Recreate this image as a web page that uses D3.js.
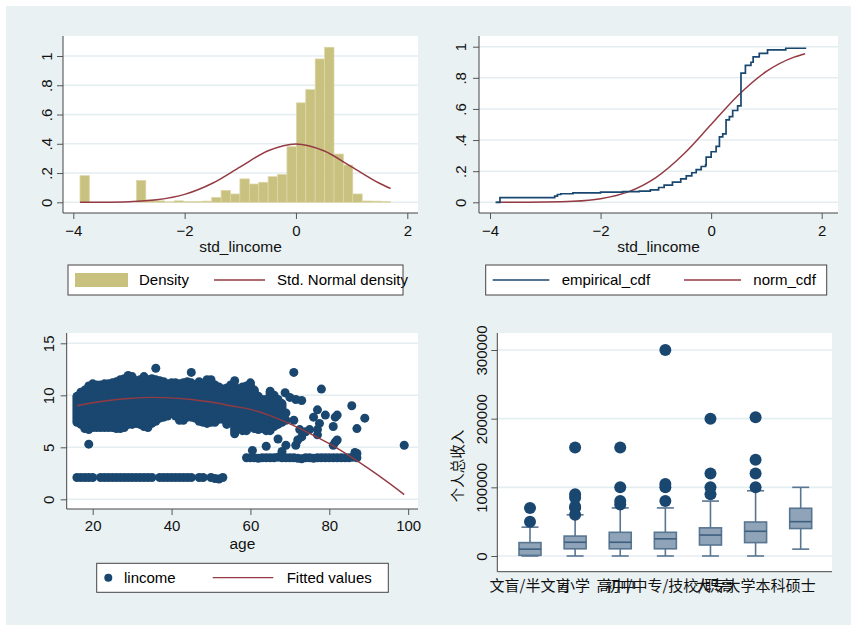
<!DOCTYPE html>
<html><head><meta charset="utf-8">
<script src="https://cdn.jsdelivr.net/npm/d3@7"></script>
<style>
body{margin:0;background:#fff}
svg{display:block;font-family:"Liberation Sans",Arial,sans-serif}
</style></head><body>
<svg id="chart" width="851" height="625"></svg>
<script>
// ---- data ----
// histogram of std_lincome (bin width 0.169)
const binWidth = 0.169;
const binLo   = [-3.88, -2.866, -2.697, -2.528, -2.359, -2.19, -2.021, -1.852, -1.683, -1.514, -1.345, -1.176, -1.007, -0.838, -0.669, -0.5, -0.331, -0.162, 0.007, 0.176, 0.345, 0.514, 0.683, 0.852, 1.021, 1.19, 1.359, 1.528];
const density = [0.182, 0.15, 0.016, 0.01, 0.003, 0.01, 0.005, 0.005, 0.008, 0.034, 0.082, 0.057, 0.16, 0.125, 0.137, 0.175, 0.19, 0.38, 0.68, 0.77, 0.98, 1.06, 0.33, 0.255, 0.057, 0.009, 0.008, 0.005];
const normX   = [-3.88, -3.5, -3.0, -2.5, -2.0, -1.5, -1.0, -0.5, 0, 0.5, 1.0, 1.5, 1.7];
const normPdf = [0.0002, 0.0009, 0.0044, 0.0175, 0.054, 0.13, 0.242, 0.352, 0.399, 0.352, 0.242, 0.13, 0.094];
const normCdf = [0.0001, 0.0002, 0.0013, 0.006, 0.023, 0.067, 0.159, 0.309, 0.5, 0.691, 0.841, 0.933, 0.955];

// empirical cdf steps
const ecdfX = [-3.9, -3.82, -2.83, -2.78, -2.72, -2.5, -2.0, -1.6, -1.3, -1.1, -0.95, -0.85, -0.7, -0.55, -0.45, -0.35, -0.27, -0.18, -0.1, -0.09, 0.0, 0.09, 0.15, 0.21, 0.27, 0.33, 0.39, 0.48, 0.54, 0.62, 0.72, 0.76, 0.87, 1.02, 1.35, 1.72];
const ecdfY = [0, 0.03, 0.04, 0.05, 0.055, 0.06, 0.065, 0.068, 0.072, 0.08, 0.095, 0.11, 0.13, 0.15, 0.17, 0.19, 0.21, 0.23, 0.24, 0.29, 0.325, 0.36, 0.42, 0.44, 0.53, 0.55, 0.59, 0.62, 0.83, 0.88, 0.9, 0.935, 0.957, 0.98, 0.99, 0.99];

// lincome vs age: dense band per age (low / high of the dots)
const bandAge = [16,17,18,19,20,21,22,23,24,25,26,27,28,29,30,31,32,33,34,35,36,37,38,39,40,41,42,43,44,45,46,47,48,49,50,51,52,53,54,55,56,57,58,59,60,61,62,63,64,65,66,67,68];
const bandLo  = [7.4,7.2,6.8,6.7,6.9,6.9,6.9,6.9,6.9,6.9,6.8,6.8,6.9,7.2,7.2,7.3,7.2,7.0,6.9,7.3,7.5,7.8,7.9,8.0,8.3,8.0,7.6,7.6,7.9,7.9,7.8,7.5,7.4,7.3,7.4,7.4,7.7,7.7,7.2,7.6,6.3,6.8,6.6,6.6,7.1,6.8,6.7,6.8,6.6,6.9,7.0,7.2,7.4];
const bandHi  = [9.9,10.3,10.5,10.9,11.1,11.0,11.0,11.1,11.1,11.2,11.3,11.5,11.6,11.9,11.8,11.4,11.5,11.8,11.5,11.6,11.5,11.4,11.3,11.1,11.2,11.2,11.1,11.2,11.3,11.2,11.0,11.3,11.0,11.5,11.5,11.0,10.8,10.6,10.7,11.0,10.9,10.4,10.8,10.9,11.2,10.5,9.9,9.6,9.6,10.4,10.0,9.6,9.2];
const lowRow = [[16,2.1],[17,2.1],[18,2.1],[19,2.1],[20,2.1],[22,2.1],[23,2.1],[24,2.1],[25,2.1],[26,2.1],[27,2.1],[28,2.1],[29,2.1],[30,2.1],[31,2.1],[32,2.1],[33,2.1],[34,2.1],[35,2.1],[37,2.1],[38,2.1],[39,2.1],[40,2.1],[41,2.1],[42,2.1],[43,2.1],[44,2.1],[45,2.1],[47,2.1],[48,2.1],[50,2.1],[51,2.0],[52,1.95],[53,2.1]];
const row4 = [[59,4.0],[60,4.0],[61,4.0],[62,3.95],[63,4.0],[64,4.0],[65,4.0],[66,4.0],[67,4.05],[68,4.0],[69,4.0],[70,4.0],[71,4.0],[72,3.95],[73,3.9],[74,4.0],[75,4.0],[76,3.95],[77,4.0],[78,4.0],[79,4.0],[80,4.0],[81,4.0],[82,4.0],[83,4.0],[84,4.0],[85,4.0],[86,4.05],[87,4.0]];
const loosePts = [[19,5.3],[36,12.6],[45,12.2],[56,11.4],[68.8,10.25],[71,12.2],[78,10.6],[70,9.8],[71.5,9.6],[73,9.5],[69,8.3],[69,7.6],[71,7.6],[72.5,6.7],[73,6.0],[74,6.5],[75,6.7],[76,7.9],[77,8.6],[77,6.7],[77,6.2],[77.5,7.3],[79,8.1],[81.5,7.9],[82,8.1],[81,7.0],[81.5,5.5],[85.7,9.0],[87,6.8],[89,7.8],[99,5.2],[67,5.8],[69,5.2],[71.5,5.2],[72,5.7],[81,5.2],[82,5.7],[60.5,4.7],[64,5.1],[86.5,4.5],[87,4.4],[68,4.6],[63,6.9],[65,6.6]];
const fitAge = [16,20,25,30,35,40,45,50,55,60,65,70,75,80,85,90,95,99];
const fitVal = [9.0,9.28,9.55,9.72,9.8,9.75,9.6,9.35,9.0,8.65,8.05,7.25,6.35,5.35,4.2,2.95,1.6,0.45];

// income by education
const edu     = ["文盲/半文盲","小学","初中","高中/中专/技校/职高","大专","大学本科","硕士"];
const q1      = [1000, 10500, 10500, 10500, 16000, 19500, 40000];
const median  = [10000, 20000, 20000, 25000, 30500, 36000, 50000];
const q3      = [19500, 29000, 34500, 34500, 41000, 49500, 69500];
const whiskLo = [0, 0, 0, 0, 0, 0, 10000];
const whiskHi = [42000, 60000, 70000, 70000, 80000, 95000, 100000];
const outliers = [[50000,70000],[60000,70000,72000,85000,90000,158000],[75000,80000,100000,158000],[80000,100000,105000,300000],[90000,100000,120000,200000],[100000,120000,140000,202000],[]];

// ---- styles ----
const navy = "#1a476f", maroon = "#943a43", khaki = "#c9c180";
const bg = "#eaf1f3", grid = "#e4edf0";

const svg = d3.select("#chart");
svg.append("rect").attr("width", 851).attr("height", 625).attr("fill", "#fff");
svg.append("rect").attr("x", 6).attr("y", 6).attr("width", 845).attr("height", 619).attr("fill", bg);

function frame(b, y, yTicks, yFmt, labOff) {
    const g = svg.append("g");
    g.append("rect").attr("x", b.l).attr("y", b.t).attr("width", b.r - b.l).attr("height", b.b - b.t).attr("fill", "#fff");
    g.selectAll(".grid").data(yTicks).join("line")
        .attr("x1", b.l).attr("x2", b.r).attr("y1", d => y(d)).attr("y2", d => y(d))
        .attr("stroke", grid).attr("stroke-width", 1.6);
    const ax = g.append("g").attr("transform", `translate(${b.l},0)`)
        .call(d3.axisLeft(y).tickValues(yTicks).tickFormat(yFmt).tickSize(6).tickSizeOuter(0));
    ax.select(".domain").remove();
    ax.selectAll("line").attr("stroke", "#555");
    ax.selectAll("text").attr("transform", "rotate(-90)").attr("x", 0).attr("y", -labOff).attr("dy", 0)
        .attr("text-anchor", "middle").attr("font-size", 15).attr("fill", "#111")
        .attr("font-family", "'Liberation Sans',Arial,sans-serif");
    return g;
}
function axisLines(g, b) {
    g.append("line").attr("x1", b.l).attr("x2", b.l).attr("y1", b.t).attr("y2", b.b).attr("stroke", "#444");
    g.append("line").attr("x1", b.l).attr("x2", b.r).attr("y1", b.b).attr("y2", b.b).attr("stroke", "#444");
}
function xAxis(g, b, x, ticks, labY, title, titleY) {
    const ax = g.append("g").attr("transform", `translate(0,${b.b})`)
        .call(d3.axisBottom(x).tickValues(ticks).tickFormat(d3.format("d")).tickSize(6).tickSizeOuter(0));
    ax.select(".domain").remove();
    ax.selectAll("line").attr("stroke", "#555");
    ax.selectAll("text").attr("y", labY).attr("dy", 0).attr("font-size", 15).attr("fill", "#111")
        .attr("font-family", "'Liberation Sans',Arial,sans-serif");
    g.append("text").attr("x", (b.l + b.r) / 2).attr("y", titleY).attr("text-anchor", "middle")
        .attr("font-size", 15.5).attr("fill", "#111").text(title);
}
const fmtFrac = d => d === 0 ? "0" : d === 1 ? "1" : d3.format(".1f")(d).replace(/^0/, "");
function legendBox(x, y, w, h) {
    const g = svg.append("g");
    g.append("rect").attr("x", x).attr("y", y).attr("width", w).attr("height", h).attr("fill", "#fff");
    return g;
}
function legendBorder(x, y, w, h) {
    svg.append("rect").attr("x", x).attr("y", y).attr("width", w).attr("height", h)
        .attr("fill", "none").attr("stroke", "#444").attr("stroke-width", 1);
}

// ---- panel 1: histogram + normal density ----
const b1 = {l: 63, t: 36, r: 418, b: 213};
const x1 = d3.scaleLinear().domain([-4, 2]).range([73.3, 407.3]);
const y1 = d3.scaleLinear().domain([0, 1]).range([202.3, 56]);
const g1 = frame(b1, y1, [0, .2, .4, .6, .8, 1], fmtFrac, 11);
g1.selectAll(".bar").data(binLo).join("rect")
    .attr("x", d => x1(d)).attr("width", d => x1(d + binWidth) - x1(d))
    .attr("y", (d, i) => y1(density[i])).attr("height", (d, i) => y1(0) - y1(density[i]))
    .attr("fill", khaki).attr("stroke", "#ddd7a8").attr("stroke-width", 0.7);
g1.append("path").datum(normX)
    .attr("d", d3.line().x(d => x1(d)).y((d, i) => y1(normPdf[i])).curve(d3.curveMonotoneX))
    .attr("fill", "none").attr("stroke", maroon).attr("stroke-width", 1.5);
axisLines(g1, b1);
xAxis(g1, b1, x1, [-4, -2, 0, 2], 23, "std_lincome", 252);

let lg = legendBox(68, 265, 335, 30);
lg.append("rect").attr("x", 75).attr("y", 273).attr("width", 53).attr("height", 14).attr("fill", khaki);
lg.append("text").attr("x", 139).attr("y", 285.3).attr("font-size", 15).text("Density");
lg.append("line").attr("x1", 214).attr("x2", 265).attr("y1", 280).attr("y2", 280).attr("stroke", maroon).attr("stroke-width", 1.3);
lg.append("text").attr("x", 277).attr("y", 285.3).attr("font-size", 15).text("Std. Normal density");
legendBorder(68, 265, 335, 30);

// ---- panel 2: empirical vs normal cdf ----
const b2 = {l: 479, t: 36, r: 838, b: 213};
const x2 = d3.scaleLinear().domain([-4, 2]).range([490, 821.7]);
const y2 = d3.scaleLinear().domain([0, 1]).range([202.3, 46.7]);
const g2 = frame(b2, y2, [0, .2, .4, .6, .8, 1], fmtFrac, 13);
g2.append("path").datum(normX)
    .attr("d", d3.line().x(d => x2(d)).y((d, i) => y2(normCdf[i])).curve(d3.curveMonotoneX))
    .attr("fill", "none").attr("stroke", maroon).attr("stroke-width", 1.5);
g2.append("path").datum(ecdfX)
    .attr("d", d3.line().x(d => x2(d)).y((d, i) => y2(ecdfY[i])).curve(d3.curveStepAfter))
    .attr("fill", "none").attr("stroke", navy).attr("stroke-width", 1.7);
axisLines(g2, b2);
xAxis(g2, b2, x2, [-4, -2, 0, 2], 23, "std_lincome", 252);

lg = legendBox(485.7, 265, 341, 30);
lg.append("line").attr("x1", 492.7).attr("x2", 549.3).attr("y1", 280).attr("y2", 280).attr("stroke", navy).attr("stroke-width", 1.3);
lg.append("text").attr("x", 561.7).attr("y", 285.3).attr("font-size", 15).text("empirical_cdf");
lg.append("line").attr("x1", 684).attr("x2", 741).attr("y1", 280).attr("y2", 280).attr("stroke", maroon).attr("stroke-width", 1.3);
lg.append("text").attr("x", 753.3).attr("y", 285.3).attr("font-size", 15).text("norm_cdf");
legendBorder(485.7, 265, 341, 30);

// ---- panel 3: scatter lincome vs age ----
const b3 = {l: 66.7, t: 333, r: 418, b: 509};
const x3 = d3.scaleLinear().domain([20, 80]).range([92.7, 329.3]);
const y3 = d3.scaleLinear().domain([0, 15]).range([499.3, 343.3]);
const g3 = frame(b3, y3, [0, 5, 10, 15], d3.format("d"), 13);
g3.selectAll(".band").data(bandAge).join("line")
    .attr("x1", d => x3(d)).attr("x2", d => x3(d))
    .attr("y1", (d, i) => y3(bandLo[i])).attr("y2", (d, i) => y3(bandHi[i]))
    .attr("stroke", navy).attr("stroke-width", 9).attr("stroke-linecap", "round");
g3.selectAll(".pt").data(lowRow.concat(row4, loosePts)).join("circle")
    .attr("cx", d => x3(d[0])).attr("cy", d => y3(d[1])).attr("r", 4.5).attr("fill", navy);
g3.append("path").datum(fitAge)
    .attr("d", d3.line().x(d => x3(d)).y((d, i) => y3(fitVal[i])).curve(d3.curveMonotoneX))
    .attr("fill", "none").attr("stroke", maroon).attr("stroke-width", 1.4);
axisLines(g3, b3);
xAxis(g3, b3, x3, [20, 40, 60, 80, 100], 22, "age", 549);

lg = legendBox(96.7, 563.3, 291.6, 29);
lg.append("circle").attr("cx", 108.3).attr("cy", 577.7).attr("r", 4).attr("fill", navy);
lg.append("text").attr("x", 124).attr("y", 583).attr("font-size", 15).text("lincome");
lg.append("line").attr("x1", 212.7).attr("x2", 273.3).attr("y1", 577.7).attr("y2", 577.7).attr("stroke", maroon).attr("stroke-width", 1.3);
lg.append("text").attr("x", 286.7).attr("y", 583).attr("font-size", 15).text("Fitted values");
legendBorder(96.7, 563.3, 291.6, 29);

// ---- panel 4: box plot of income by education ----
const b4 = {l: 497.3, t: 333, r: 832, b: 571.7};
const x4 = d3.scalePoint().domain(edu).range([530, 800.7]);
const y4 = d3.scaleLinear().domain([0, 300000]).range([556, 350]);
const g4 = frame(b4, y4, [0, 100000, 200000, 300000], d3.format("d"), 10);
const boxFill = "#8fa4b8", boxLine = "#587592";
const bx = g4.selectAll(".box").data(edu).join("g").attr("transform", d => `translate(${x4(d)},0)`);
bx.append("line").attr("y1", (d, i) => y4(whiskLo[i])).attr("y2", (d, i) => y4(q1[i])).attr("stroke", boxLine).attr("stroke-width", 1.6);
bx.append("line").attr("y1", (d, i) => y4(q3[i])).attr("y2", (d, i) => y4(whiskHi[i])).attr("stroke", boxLine).attr("stroke-width", 1.6);
bx.append("line").attr("x1", -8.5).attr("x2", 8.5).attr("y1", (d, i) => y4(whiskLo[i])).attr("y2", (d, i) => y4(whiskLo[i])).attr("stroke", boxLine).attr("stroke-width", 1.6);
bx.append("line").attr("x1", -8.5).attr("x2", 8.5).attr("y1", (d, i) => y4(whiskHi[i])).attr("y2", (d, i) => y4(whiskHi[i])).attr("stroke", boxLine).attr("stroke-width", 1.6);
bx.append("rect").attr("x", -11).attr("width", 22)
    .attr("y", (d, i) => y4(q3[i])).attr("height", (d, i) => y4(q1[i]) - y4(q3[i]))
    .attr("fill", boxFill).attr("stroke", boxLine).attr("stroke-width", 1.6);
bx.append("line").attr("x1", -11).attr("x2", 11).attr("y1", (d, i) => y4(median[i])).attr("y2", (d, i) => y4(median[i]))
    .attr("stroke", "#3d5e7e").attr("stroke-width", 1.6);
bx.each(function (d, i) {
    d3.select(this).selectAll("circle").data(outliers[i]).join("circle")
        .attr("cx", 0).attr("cy", v => y4(v)).attr("r", 6).attr("fill", navy);
});
g4.append("line").attr("x1", b4.l).attr("x2", b4.l).attr("y1", b4.t).attr("y2", b4.b).attr("stroke", "#444");
g4.append("line").attr("x1", b4.l).attr("x2", b4.r).attr("y1", b4.b).attr("y2", b4.b).attr("stroke", "#444");
g4.selectAll(".cat").data(edu).join("text")
    .attr("x", d => x4(d)).attr("y", 591).attr("text-anchor", "middle")
    .attr("font-family", "'Noto Sans CJK SC',sans-serif").attr("font-size", 15).attr("fill", "#111")
    .text(d => d);
g4.append("text").attr("transform", "translate(463,466) rotate(-90)").attr("text-anchor", "middle")
    .attr("font-family", "'Noto Sans CJK SC',sans-serif").attr("font-size", 14.5).attr("fill", "#111")
    .text("个人总收入");
</script></body></html>
